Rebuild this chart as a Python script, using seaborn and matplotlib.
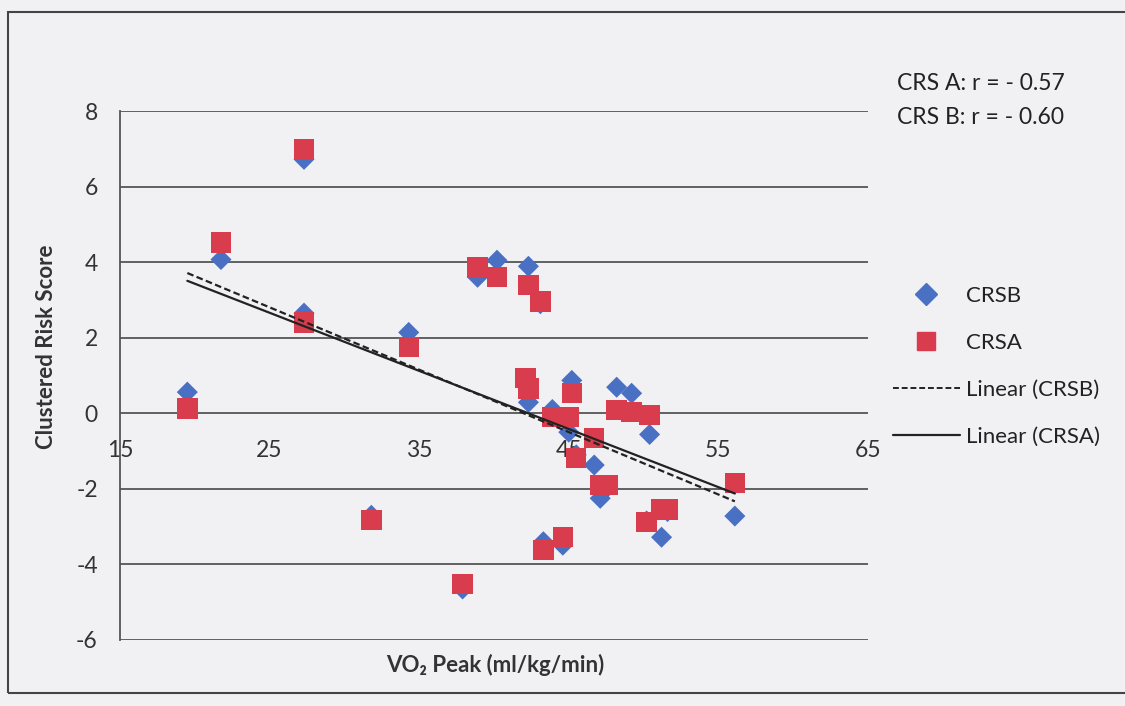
import matplotlib
matplotlib.use("Agg")
import matplotlib.pyplot as plt
import seaborn as sns
import numpy as np
import pandas as pd
from matplotlib.lines import Line2D
from matplotlib.patches import Rectangle

# ---- data ----
vo2_peak = [19.5, 21.75, 27.3, 27.3, 34.3, 31.8, 37.9, 38.9, 40.2, 42.3,
            43.1, 42.1, 42.3, 45.2, 43.9, 45.0, 45.5, 46.7, 47.1, 47.6,
            48.2, 49.2, 50.4, 50.2, 51.2, 51.6, 56.1, 43.3, 44.6]
crsa = [0.13, 4.52, 6.98, 2.40, 1.75, -2.83, -4.52, 3.86, 3.60, 3.39,
        2.96, 0.93, 0.66, 0.53, -0.10, -0.10, -1.19, -0.66, -1.90, -1.90,
        0.08, 0.03, -0.05, -2.88, -2.55, -2.55, -1.85, -3.62, -3.28]
crsb = [0.56, 4.07, 6.72, 2.65, 2.14, -2.70, -4.65, 3.60, 4.05, 3.89,
        2.90, 0.85, 0.29, 0.87, 0.10, -0.50, -1.10, -1.37, -2.25, -1.95,
        0.69, 0.53, -0.56, -2.85, -3.28, -2.60, -2.72, -3.40, -3.49]
x_ticks = [15, 25, 35, 45, 55, 65]
y_ticks = [-6, -4, -2, 0, 2, 4, 6, 8]
corr_text = ["CRS A: r = - 0.57", "CRS B: r = - 0.60"]

df = pd.DataFrame({"vo2": vo2_peak, "CRSA": crsa, "CRSB": crsb})

sns.set_theme(style="white")
plt.rcParams["font.family"] = ["Lato", "DejaVu Sans"]
plt.rcParams["axes.unicode_minus"] = False

BG = "#F1F0F3"
BLUE = "#4A70C4"
RED = "#D93C4C"
GRID = "#555555"

fig = plt.figure(figsize=(11.25, 7.06), dpi=100, facecolor=BG)
ax = fig.add_axes([120 / 1125, 1 - 640 / 706, (868 - 120) / 1125, (640 - 111) / 706])
ax.set_facecolor(BG)

# outer chart border
fig.patches.append(Rectangle((8 / 1125, 1 - 693 / 706), 1.2, (693 - 12) / 706,
                             transform=fig.transFigure, fill=False,
                             edgecolor="#444444", lw=1.5, zorder=0))

# gridlines
for yv in y_ticks:
    ax.axhline(yv, color=GRID, lw=1.3, zorder=1)

sns.scatterplot(data=df, x="vo2", y="CRSB", marker="D", s=115, color=BLUE,
                edgecolor="none", ax=ax, zorder=3)
sns.scatterplot(data=df, x="vo2", y="CRSA", marker="s", s=215, color=RED,
                edgecolor="none", ax=ax, zorder=4)

sns.regplot(data=df, x="vo2", y="CRSB", scatter=False, ci=None, truncate=True,
            ax=ax, line_kws=dict(color="#222222", lw=1.6, ls=(0, (3, 1.5)), zorder=5))
sns.regplot(data=df, x="vo2", y="CRSA", scatter=False, ci=None, truncate=True,
            ax=ax, line_kws=dict(color="#222222", lw=1.6, zorder=5))

ax.set_xlim(15, 65)
ax.set_ylim(-6, 8)
ax.set_xticks(x_ticks)
ax.set_yticks(y_ticks)
for s in ["top", "right"]:
    ax.spines[s].set_visible(False)
ax.spines["bottom"].set_position(("data", 0))
ax.spines["bottom"].set_visible(False)
ax.spines["left"].set_color(GRID)
ax.spines["left"].set_linewidth(1.3)
ax.tick_params(axis="x", length=0, pad=19, labelsize=16.5, labelcolor="#333333")
ax.tick_params(axis="y", length=0, pad=16, labelsize=16.5, labelcolor="#333333")
ax.set_xlabel("")
ax.set_ylabel("")

fig.text(495 / 1125, 1 - 665 / 706, "VO₂ Peak (ml/kg/min)", ha="center", va="center",
         fontsize=16, fontweight="bold", color="#333333")
fig.text(47 / 1125, 1 - 347 / 706, "Clustered Risk Score", ha="center", va="center",
         rotation=90, fontsize=16, fontweight="bold", color="#333333")

fig.text(897 / 1125, 1 - 84 / 706, corr_text[0], ha="left", va="center",
         fontsize=16.5, color="#222222")
fig.text(897 / 1125, 1 - 118 / 706, corr_text[1], ha="left", va="center",
         fontsize=16.5, color="#222222")

handles = [
    Line2D([], [], marker="D", color=BLUE, ls="none", markersize=11),
    Line2D([], [], marker="s", color=RED, ls="none", markersize=13),
    Line2D([], [], color="#222222", lw=1.4, ls=(0, (3, 1.5))),
    Line2D([], [], color="#222222", lw=1.6),
]
labels = ["CRSB", "CRSA", "Linear (CRSB)", "Linear (CRSA)"]
fig.legend(handles, labels, loc="upper left", bbox_to_anchor=(884 / 1125, 1 - 277 / 706),
           frameon=False, fontsize=16, labelspacing=1.22, handlelength=3.0,
           handletextpad=0.3, borderaxespad=0, labelcolor="#222222")

fig.savefig("out.png", dpi=100, facecolor=BG)
